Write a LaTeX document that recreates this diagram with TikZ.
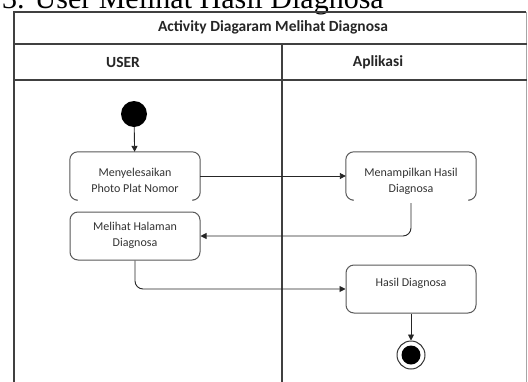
\documentclass[tikz,border=0pt]{standalone}
\usepackage{fontspec}
\setmainfont{Carlito}
\newfontfamily\serifhead{Liberation Serif}
\usetikzlibrary{arrows.meta,calc}
\begin{document}
\begin{tikzpicture}[x=1pt,y=-1pt,
  frame/.style={draw=black!75, line width=1.3pt},
  actbox/.style={minimum width=130pt, minimum height=48pt, inner sep=0pt},
  boxline/.style={draw=black!65, line width=1pt, rounded corners=8pt},
  flow/.style={draw=black!85, line width=0.9pt, -{Triangle[length=6pt,width=6pt]}},
  txt/.style={font=\fontsize{12}{16}\selectfont, align=center, text=black!80, inner sep=0pt},
  hdr/.style={font=\fontsize{15.5}{18}\selectfont\bfseries, text=black!85, inner sep=0pt}
]
\useasboundingbox (0,0) rectangle (528,381);
\clip (0,0) rectangle (528,381);
\fill[white] (0,0) rectangle (528,381);
% heading above the diagram (cut at top)
\node[anchor=base west, inner sep=0pt, font=\serifhead\fontsize{30}{32}\selectfont] (heading) at (2,8) {3. User Melihat Hasil Diagnosa};
% frame and swimlanes
\draw[frame] (14,400) -- (14,12) -- (526,12);
\draw[draw=black!35, line width=0.8pt] (526,12) -- (526,400);
\draw[frame] (14,44) -- (527,44);
\draw[frame, line width=1.8pt] (14,80) -- (527,80);
\draw[frame] (282,44) -- (282,400);
\node[hdr] (title) at (273,27) {Activity Diagaram Melihat Diagnosa};
\node[hdr] (user) at (123,62) {USER};
\node[hdr] (apl) at (378,62) {Aplikasi};
% start
\node[circle, fill=black, minimum size=26pt, inner sep=0pt] (start) at (134,114) {};
% activity 1 (open bottom)
\node[actbox] (b1) at (135,176) {};
\draw[boxline] ($(b1.south west)+(6,0)$) -- (b1.south west) -- (b1.north west) -- (b1.north east) -- (b1.south east) -- ($(b1.south east)+(-6,0)$);
\node[txt] (t1) at (135,180) {Menyelesaikan\\Photo Plat Nomor};
% activity Menampilkan (open bottom)
\node[actbox] (m) at (411,176) {};
\draw[boxline] ($(m.south west)+(6,0)$) -- (m.south west) -- (m.north west) -- (m.north east) -- (m.south east) -- ($(m.south east)+(-6,0)$);
\node[txt] (tm) at (411,181) {Menampilkan Hasil\\Diagnosa};
% activity 2
\node[actbox, boxline] (b2) at (135,236) {};
\node[txt] (t2) at (135,235) {Melihat Halaman\\Diagnosa};
% Hasil
\node[actbox, boxline] (h) at (411,289) {};
\node[txt] (th) at (411,283) {Hasil Diagnosa};
% end
\node[circle, draw=black!80, line width=1pt, minimum size=28pt, inner sep=0pt] (end) at (411,355) {};
\node[circle, fill=black, minimum size=19pt, inner sep=0pt] (endin) at (end) {};
% flows
\draw[flow] (start) -- (b1);
\draw[flow] (b1.east) -- (m.west);
\draw[flow, rounded corners=8pt] ($(m.south)+(0,3)$) |- (b2.east);
\draw[flow, rounded corners=8pt] (b2.south) |- (h.west);
\draw[flow] (h) -- (end);
\end{tikzpicture}
\end{document}
